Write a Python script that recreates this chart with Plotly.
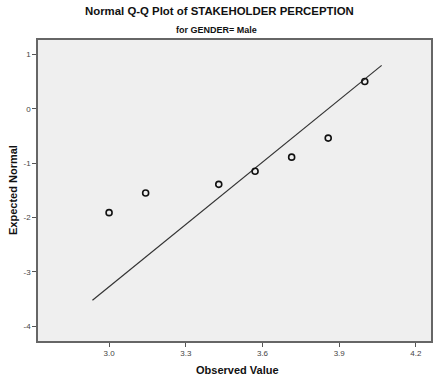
import plotly.graph_objects as go

observed = [3.0, 3.143, 3.429, 3.571, 3.714, 3.857, 4.0]
expected = [-1.91, -1.55, -1.39, -1.15, -0.89, -0.54, 0.50]
line_x = [2.935, 4.066]
line_y = [-3.52, 0.797]
x_ticks = [3.0, 3.3, 3.6, 3.9, 4.2]
y_ticks = [1, 0, -1, -2, -3, -4]

W, H = 436, 380
l, r, t, b = 38, 5, 40, 39
pw, ph = W - l - r, H - t - b


def px(xp):
    return (xp - l) / pw


def py(yp):
    return (H - b - yp) / ph


fig = go.Figure()
fig.add_trace(go.Scatter(x=line_x, y=line_y, mode="lines",
                         line=dict(color="#333333", width=1.2), hoverinfo="skip"))
fig.add_trace(go.Scatter(x=observed, y=expected, mode="markers",
                         marker=dict(symbol="circle-open", size=6, color="#111111",
                                     line=dict(width=1.6, color="#111111"))))

fig.update_layout(
    width=W, height=H,
    margin=dict(l=l, r=r, t=t, b=b, autoexpand=False),
    paper_bgcolor="white",
    plot_bgcolor="#efefef",
    showlegend=False,
    font=dict(family="Liberation Sans, Arial", color="#222222"),
)
fig.add_annotation(text="<b>Normal Q-Q Plot of STAKEHOLDER PERCEPTION</b>", x=px(219), xref="paper",
                   y=py(11), yref="paper", showarrow=False, xanchor="center", yanchor="middle",
                   font=dict(size=11.4, color="#111111"))
fig.add_annotation(text="<b>for GENDER= Male</b>", x=px(216), xref="paper",
                   y=py(30), yref="paper", showarrow=False, xanchor="center", yanchor="middle",
                   font=dict(size=9, color="#111111"))
fig.add_annotation(text="<b>Observed Value</b>", x=px(237), xref="paper",
                   y=py(370), yref="paper", showarrow=False, xanchor="center", yanchor="middle",
                   font=dict(size=11, color="#111111"))
fig.add_annotation(text="<b>Expected Normal</b>", x=px(13), xref="paper",
                   y=py(190), yref="paper", showarrow=False, xanchor="center", yanchor="middle",
                   textangle=-90, font=dict(size=11, color="#111111"))

fig.update_xaxes(range=[2.722, 4.259], tickvals=x_ticks, ticktext=[f"{v:.1f}" for v in x_ticks],
                 ticks="outside", ticklen=4, tickcolor="#555555", tickwidth=1, automargin=False,
                 showgrid=False, zeroline=False, showline=True, linecolor="#666666", linewidth=1.5,
                 mirror=True, tickfont=dict(size=8, color="#444444"))
fig.update_yaxes(range=[-4.27, 1.264], tickvals=y_ticks, ticktext=[str(v) for v in y_ticks],
                 ticks="outside", ticklen=4, tickcolor="#555555", tickwidth=1, automargin=False,
                 showgrid=False, zeroline=False, showline=True, linecolor="#666666", linewidth=1.5,
                 mirror=True, tickfont=dict(size=8, color="#444444"))

fig.write_html("out.html", config={"displayModeBar": False},
               post_script="document.body.style.margin='0';document.body.style.overflow='hidden';")
